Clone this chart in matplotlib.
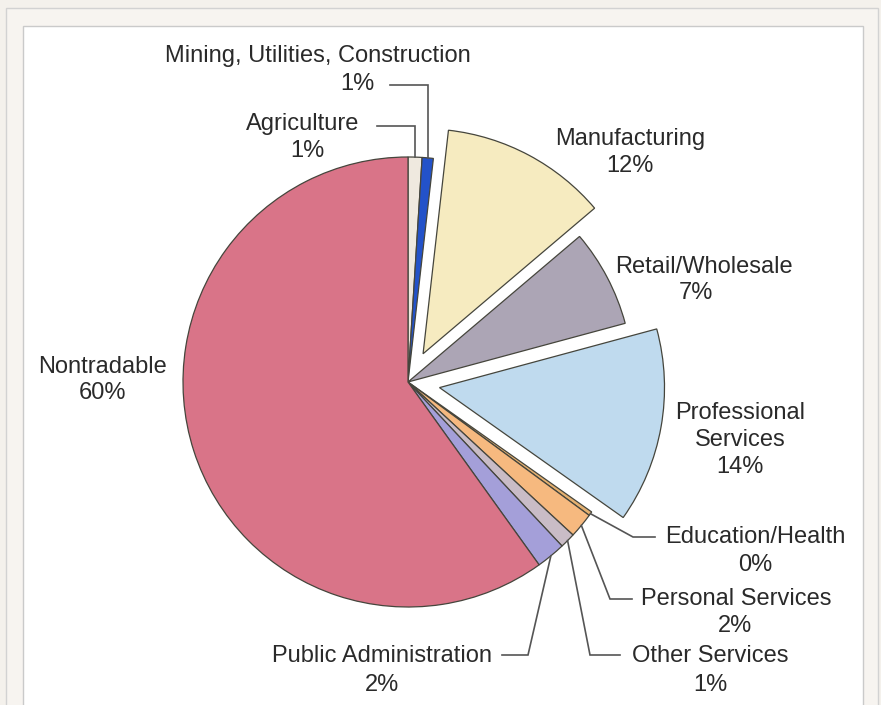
import numpy as np
import matplotlib.pyplot as plt
from matplotlib.patches import Rectangle

plt.rcParams['font.family'] = ['Liberation Sans', 'DejaVu Sans']

# share of employment by sector (%), clockwise from 12 o'clock
sectors = ['Agriculture', 'Mining, Utilities, Construction', 'Manufacturing',
           'Retail/Wholesale', 'Professional Services', 'Education/Health',
           'Personal Services', 'Other Services', 'Public Administration',
           'Nontradable']
shares = [1.0, 0.8, 12.0, 7.0, 14.0, 0.3, 1.8, 1.1, 2.1, 59.9]
pct_labels = ['1%', '1%', '12%', '7%', '14%', '0%', '2%', '1%', '2%', '60%']
colors = ['#efe9df', '#2352c9', '#f6ebc0', '#aca5b5', '#bfdaee', '#e4b070',
          '#f6b97f', '#c9bcc6', '#a49fd9', '#d97488']
pulled_out = ['Manufacturing', 'Professional Services']

W, H = 881, 705
fig = plt.figure(figsize=(W / 100, H / 100), dpi=100)
fig.patch.set_facecolor('#f4f1ec')
ax = fig.add_axes([0, 0, 1, 1])

# page frame (pixel coords, y up)
ax.add_patch(Rectangle((6, -5), 872, H - 8 + 5, facecolor='#f7f4f0',
                       edgecolor='#d2d2d2', lw=1.0, zorder=0))
ax.add_patch(Rectangle((23, -5), 840, H - 26 + 5, facecolor='white',
                       edgecolor='#cacaca', lw=1.0, zorder=0))

cx, cy, R = 408, H - 382, 225
gap = 32  # explode offset in pixels
explode = [gap if s in pulled_out else 0 for s in sectors]
wedges, _ = ax.pie(shares, colors=colors, explode=explode, startangle=90,
                   counterclock=False, center=(cx, cy), radius=R,
                   wedgeprops=dict(edgecolor='#45453c', linewidth=0.9))
ax.set_xlim(0, W)
ax.set_ylim(0, H)
ax.set_aspect('equal')
ax.axis('off')


def rim(w):
    a = np.deg2rad((w.theta1 + w.theta2) / 2)
    return w.center[0] + w.r * np.cos(a), w.center[1] + w.r * np.sin(a)


# label text: (line, x, y) in pixels from top
txt = dict(color='#2a2a2a', fontsize=17, ha='center', va='center')
layout = {
    'Agriculture': [('Agriculture', 303, 124), ('1%', 307, 151)],
    'Mining, Utilities, Construction': [('Mining, Utilities, Construction', 318, 56), ('1%', 357, 84)],
    'Manufacturing': [('Manufacturing', 630, 139), ('12%', 630, 166)],
    'Retail/Wholesale': [('Retail/Wholesale', 704, 267), ('7%', 696, 293)],
    'Professional Services': [('Professional', 740, 413), ('Services', 740, 440), ('14%', 740, 467)],
    'Education/Health': [('Education/Health', 755, 537), ('0%', 755, 565)],
    'Personal Services': [('Personal Services', 736, 599), ('2%', 735, 626)],
    'Other Services': [('Other Services', 710, 656), ('1%', 710, 685)],
    'Public Administration': [('Public Administration', 382, 656), ('2%', 382, 685)],
    'Nontradable': [('Nontradable', 103, 367), ('60%', 103, 393)],
}
for name, lines in layout.items():
    for s, x, y in lines:
        ax.text(x, H - y, s, **txt)

# leader lines: elbow and end points (pixels from top)
leaders = {
    'Agriculture': [(None, 126), (377, 126)],
    'Mining, Utilities, Construction': [(None, 85), (390, 85)],
    'Education/Health': [(633, 537), (655, 537)],
    'Personal Services': [(610, 599), (632, 599)],
    'Other Services': [(590, 655), (620, 655)],
    'Public Administration': [(528, 655), (502, 655)],
}
for name, pts in leaders.items():
    w = wedges[sectors.index(name)]
    x0, y0 = rim(w)
    xs, ys = [x0], [y0]
    for px, py in pts:
        xs.append(x0 if px is None else px)
        ys.append(H - py)
    ax.plot(xs, ys, color='#555555', lw=1.2, solid_joinstyle='miter')

fig.savefig('out.png', dpi=100, facecolor=fig.get_facecolor())
